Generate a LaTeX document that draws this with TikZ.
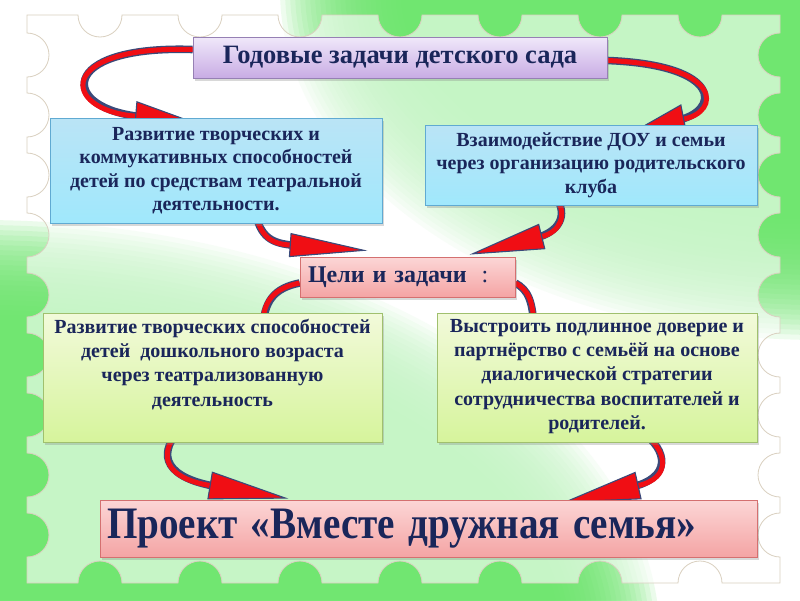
\documentclass[tikz,border=0pt]{standalone}
\usepackage{fontspec}
\setmainfont{Liberation Serif}
\usetikzlibrary{arrows.meta,shadows}

\definecolor{bggreen}{RGB}{108,230,108}
\definecolor{panelline}{RGB}{218,208,192}
\definecolor{inknavy}{RGB}{26,38,90}
\definecolor{ribbonred}{RGB}{240,14,20}
\definecolor{ribbonedge}{RGB}{58,74,122}
\definecolor{lilactop}{RGB}{240,232,250}
\definecolor{lilacbot}{RGB}{200,172,228}
\definecolor{lilacline}{RGB}{150,128,180}
\definecolor{bluetop}{RGB}{186,228,246}
\definecolor{bluebot}{RGB}{160,232,252}
\definecolor{blueline}{RGB}{96,170,210}
\definecolor{pinktop}{RGB}{252,214,214}
\definecolor{pinkbot}{RGB}{244,164,164}
\definecolor{pinkline}{RGB}{212,112,112}
\definecolor{greentop}{RGB}{242,250,218}
\definecolor{greenbot}{RGB}{214,244,156}
\definecolor{greenline}{RGB}{160,192,110}

\pgfdeclarelayer{bg}
\pgfdeclarelayer{ribbons}
\pgfsetlayers{bg,ribbons,main}

\tikzset{
  box/.style={draw, line width=0.8pt, inner sep=0pt, align=center, text=inknavy,
    drop shadow={shadow xshift=2pt, shadow yshift=-3pt, opacity=0.3}},
  lilacbox/.style={box, draw=lilacline, top color=lilactop, bottom color=lilacbot},
  bluebox/.style={box, draw=blueline, top color=bluetop, bottom color=bluebot,
    font=\fontsize{20}{23.5}\selectfont\bfseries},
  pinkbox/.style={box, draw=pinkline, top color=pinktop, bottom color=pinkbot},
  greenbox/.style={box, draw=greenline, top color=greentop, bottom color=greenbot,
    font=\fontsize{20}{24.3}\selectfont\bfseries, inner ysep=6pt},
  ribbon/.style 2 args={line width=5pt, ribbonred,
    -{Triangle[length=#1, width=#2, fill=ribbonred, color=ribbonedge, line width=1.1pt]},
    preaction={draw=ribbonedge, line width=7.6pt, -, shorten >=#1-8pt}}
}

\begin{document}
\begin{tikzpicture}[x=1pt,y=1pt]
\useasboundingbox (0,0) rectangle (800,-600);

% фон
\begin{pgfonlayer}{bg}
  \fill[white] (0,0) rectangle (800,-600);
  \begin{scope}
    \clip (0,0) rectangle (800,-600);
    \foreach \d in {0,5,...,120}
      \fill[bggreen, opacity=0.11] (820,10) ellipse [x radius=420+\d, y radius=230+\d];
    \foreach \d in {0,5,...,100}
      \fill[bggreen, opacity=0.13] (-20,-640) ellipse [x radius=580+\d, y radius=320+\d];
  \end{scope}
  % рамка-марка
  \filldraw[fill=white, fill opacity=0.6, draw=panelline, line width=0.8pt] (27,-15)
    foreach \x in {100,200,...,700} { -- (\x-22,-15) arc[start angle=180, end angle=360, radius=22] }
    -- (780,-15)
    foreach \y in {55,115,...,535} { -- (780,-\y+22) arc[start angle=90, end angle=270, radius=22] }
    -- (780,-583)
    foreach \x in {700,600,...,100} { -- (\x+22,-583) arc[start angle=0, end angle=180, radius=22] }
    -- (27,-583)
    foreach \y in {535,475,...,55} { -- (27,-\y-22) arc[start angle=270, end angle=450, radius=22] }
    -- cycle;
\end{pgfonlayer}

% блоки
\node[lilacbox, minimum width=414pt, minimum height=41pt, font=\fontsize{26.5}{30}\selectfont\bfseries]
  (title) at (400,-57.5) {Годовые задачи детского сада};
\node[bluebox, minimum width=332pt, minimum height=105pt] (blueL) at (216,-170.5)
  {Развитие творческих и\\коммукативных способностей\\детей по средствам театральной\\деятельности.};
\node[bluebox, minimum width=332pt, minimum height=80pt] (blueR) at (591,-165)
  {Взаимодействие ДОУ и семьи\\через организацию родительского\\клуба};
\node[pinkbox, minimum width=215pt, minimum height=40pt, text width=199pt, align=left,
  font=\fontsize{24}{28}\selectfont\bfseries] (goal) at (407.5,-277)
  {Цели и задачи\hspace{15pt}{\mdseries :}};
\node[greenbox, minimum width=339pt, minimum height=129pt] (greenL) at (212.5,-377.5)
  {\parbox[c][117pt][t]{334pt}{\centering Развитие творческих способностей\\детей\ \ дошкольного возраста\\через театрализованную\\деятельность}};
\node[greenbox, minimum width=320pt, minimum height=129pt] (greenR) at (597,-377.5)
  {\parbox[c][117pt][t]{316pt}{\centering Выстроить подлинное доверие и\\партнёрство с семьёй на основе\\диалогической стратегии\\сотрудничества воспитателей и\\родителей.}};
\node[pinkbox, minimum width=657pt, minimum height=57pt, text width=643pt, align=left,
  font=\fontsize{45}{50}\selectfont\bfseries] (project) at (428.5,-528.5)
  {\scalebox{0.87}[1]{Проект «Вместе дружная семья»}};

% стрелки
\begin{pgfonlayer}{ribbons}
  \draw[ribbon={55pt}{30pt}] ([yshift=8pt]title.west) .. controls (55,-45) and (60,-110) .. ([xshift=-26pt,yshift=-3pt]blueL.north);
  \draw[ribbon={45pt}{30pt}] ([yshift=-3pt]title.east) .. controls (725,-65) and (720,-112) .. ([xshift=49pt,yshift=-3pt]blueR.north);
  \draw[ribbon={78pt}{24pt}] ([xshift=40pt,yshift=8pt]blueL.south) .. controls (262,-240) and (275,-244) .. ([xshift=-40pt,yshift=6pt]goal.north);
  \draw[ribbon={75pt}{26pt}] ([xshift=-35pt,yshift=8pt]blueR.south) .. controls (568,-215) and (560,-232) .. ([xshift=62pt,yshift=2pt]goal.north);
  \draw[ribbon={30pt}{22pt}] ([yshift=-6pt]goal.west) .. controls (275,-288) and (263,-300) .. ([xshift=50pt,yshift=-42pt]greenL.north);
  \draw[ribbon={30pt}{22pt}] ([yshift=-6pt]goal.east) .. controls (528,-290) and (533,-300) .. ([xshift=-62pt,yshift=-42pt]greenR.north);
  \draw[ribbon={80pt}{28pt}] ([xshift=-35pt,yshift=10pt]greenL.south) .. controls (158,-455) and (165,-478) .. ([xshift=-140pt,yshift=1pt]project.north);
  \draw[ribbon={78pt}{28pt}] ([xshift=45pt,yshift=10pt]greenR.south) .. controls (668,-450) and (672,-478) .. ([xshift=134pt,yshift=-3pt]project.north);
\end{pgfonlayer}
\end{tikzpicture}
\end{document}
